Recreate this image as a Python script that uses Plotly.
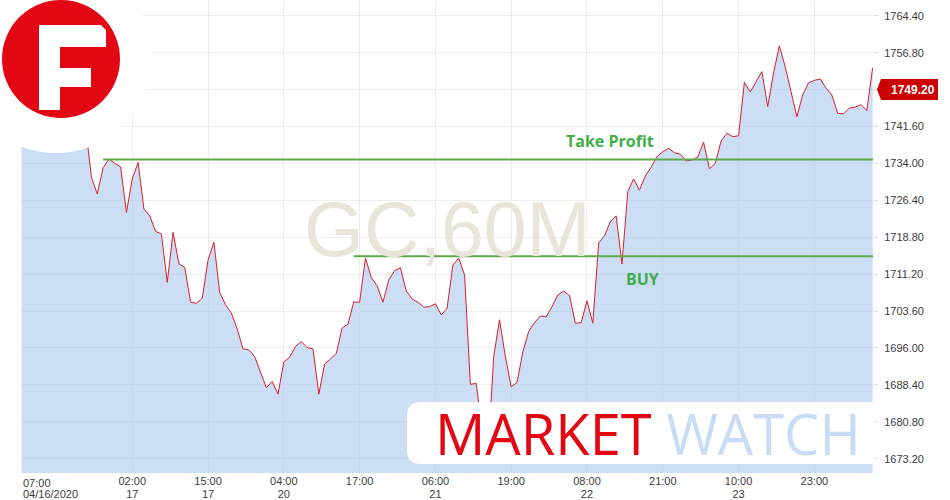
import plotly.graph_objects as go

# ---------------- data ----------------
# hourly closes of GC (gold), 60-minute chart, bar index 0 = 07:00 04/16/2020
close = [
    1741.0, 1742.5, 1743.8, 1742.6, 1744.1, 1745.0, 1743.5, 1742.8, 1744.2, 1743.0,
    1742.2, 1741.4, 1731.1, 1727.7, 1733.1, 1734.9, 1734.0, 1733.3, 1723.9, 1730.8,
    1734.2, 1724.6, 1723.2, 1720.0, 1719.5, 1709.5, 1719.8, 1713.3, 1712.6, 1705.4,
    1705.2, 1706.2, 1714.1, 1717.8, 1707.4, 1704.9, 1703.2, 1699.9, 1695.8, 1695.6,
    1694.2, 1691.1, 1687.8, 1689.1, 1686.5, 1693.1, 1694.1, 1696.3, 1697.3, 1696.1,
    1695.8, 1686.5, 1692.7, 1693.7, 1694.9, 1700.1, 1700.9, 1705.5, 1705.4, 1714.5,
    1710.5, 1708.8, 1705.4, 1710.0, 1711.9, 1712.5, 1707.7, 1706.1, 1705.4, 1704.4,
    1704.5, 1705.1, 1702.8, 1704.2, 1713.1, 1714.5, 1711.0, 1688.5, 1688.7, 1679.0,
    1674.0, 1694.2, 1701.8, 1694.2, 1688.0, 1688.9, 1695.2, 1699.4, 1701.2, 1702.6,
    1702.4, 1704.5, 1706.9, 1707.7, 1706.8, 1701.1, 1701.2, 1705.7, 1701.1, 1717.6,
    1719.1, 1722.0, 1723.2, 1713.3, 1728.2, 1730.8, 1728.5, 1731.4, 1733.2, 1735.4,
    1736.4, 1737.1, 1736.2, 1735.9, 1734.5, 1734.7, 1735.3, 1738.4, 1732.9, 1734.0,
    1738.6, 1740.2, 1739.5, 1739.7, 1750.7, 1748.7, 1750.9, 1752.9, 1745.7, 1752.6,
    1758.2, 1753.9, 1748.8, 1743.6, 1748.1, 1750.6, 1751.1, 1751.4, 1749.5, 1748.1,
    1744.3, 1744.2, 1745.4, 1745.6, 1746.1, 1744.9, 1753.7,
]
bar_index = list(range(len(close)))

tick_index = [19, 32, 45, 58, 71, 84, 97, 110, 123, 136]
time_labels = ["02:00", "15:00", "04:00", "17:00", "06:00", "19:00", "08:00", "21:00", "10:00", "23:00"]
date_labels = ["17", "17", "20", "", "21", "", "22", "", "23", ""]
first_time_label = "07:00"
first_date_label = "04/16/2020"

price_ticks = [1673.2, 1680.8, 1688.4, 1696.0, 1703.6, 1711.2, 1718.8,
               1726.4, 1734.0, 1741.6, 1749.2, 1756.8, 1764.4]
current_price = 1749.20

take_profit_level = 1734.8
take_profit_start = 14
buy_level = 1714.9
buy_start = 57

symbol_text = "GC,60M"

# ---------------- layout helpers (pixel -> paper) ----------------
W, H = 950, 500
L, R, T, B = 21, 77, 0, 27
PW, PH = W - L - R, H - T - B
Y_RANGE = [1670.25, 1767.65]


def pxx(x):
    return (x - L) / PW


def pxy(y):
    return (H - B - y) / PH


FONT = "Arial, Liberation Sans, sans-serif"
RED = "#e30613"
GREEN_LINE = "#5ea84a"
GREEN_TEXT = "#3fae49"
LABEL = "#3c3c3c"

fig = go.Figure()

fig.add_trace(go.Scatter(
    x=bar_index, y=close, mode="lines",
    line=dict(color="#d81e28", width=1),
    fill="tozeroy", fillcolor="rgba(170,200,240,0.6)",
    hoverinfo="skip", showlegend=False,
))

x_end = 146.06
for lvl, start in [(take_profit_level, take_profit_start), (buy_level, buy_start)]:
    fig.add_trace(go.Scatter(
        x=[start, x_end], y=[lvl, lvl], mode="lines",
        line=dict(color=GREEN_LINE, width=2),
        hoverinfo="skip", showlegend=False,
    ))

shapes = []
# white halo behind logo
shapes.append(dict(type="circle", xref="paper", yref="paper",
                   x0=pxx(-40), x1=pxx(152), y0=pxy(153), y1=pxy(-39),
                   fillcolor="white", line=dict(width=0), layer="above"))
# red logo circle
shapes.append(dict(type="circle", xref="paper", yref="paper",
                   x0=pxx(2), x1=pxx(120), y0=pxy(118), y1=pxy(0),
                   fillcolor=RED, line=dict(width=0), layer="above"))
# white F
fpts = [(39, 25), (101, 25), (106, 30), (106, 47), (60, 47), (60, 68), (91, 68),
        (91, 87), (60, 87), (60, 110), (39, 110)]
fpath = "M " + " L ".join(f"{pxx(a):.5f},{pxy(b):.5f}" for a, b in fpts) + " Z"
shapes.append(dict(type="path", xref="paper", yref="paper", path=fpath,
                   fillcolor="white", line=dict(width=0), layer="above"))
# MARKET WATCH box
bx0, bx1, by0, by1, r = 407, 873, 402, 464, 14
bpath = (f"M {pxx(bx0 + r):.5f},{pxy(by0):.5f} L {pxx(bx1):.5f},{pxy(by0):.5f} "
         f"L {pxx(bx1):.5f},{pxy(by1):.5f} L {pxx(bx0 + r):.5f},{pxy(by1):.5f} "
         f"Q {pxx(bx0):.5f},{pxy(by1):.5f} {pxx(bx0):.5f},{pxy(by1 - r):.5f} "
         f"L {pxx(bx0):.5f},{pxy(by0 + r):.5f} "
         f"Q {pxx(bx0):.5f},{pxy(by0):.5f} {pxx(bx0 + r):.5f},{pxy(by0):.5f} Z")
shapes.append(dict(type="path", xref="paper", yref="paper", path=bpath,
                   fillcolor="white", line=dict(width=0), layer="above"))
# current price label box
hh = 10.5 / (PH / (Y_RANGE[1] - Y_RANGE[0]))
ppath = (f"M {pxx(877):.5f},{current_price} L {pxx(881):.5f},{current_price + hh} "
         f"L {pxx(938):.5f},{current_price + hh} L {pxx(938):.5f},{current_price - hh} "
         f"L {pxx(881):.5f},{current_price - hh} Z")
shapes.append(dict(type="path", xref="paper", yref="y", path=ppath,
                   fillcolor="#cc0000", line=dict(width=0), layer="above"))

annotations = [
    dict(text=symbol_text, xref="paper", yref="paper", x=pxx(448), y=pxy(229),
         xanchor="center", yanchor="middle", showarrow=False,
         font=dict(family=FONT, size=77, color="#e9e5d9")),
    dict(text="Take Profit", x=100.9, y=1738.6, showarrow=False,
         font=dict(family="Open Sans", size=16, color=GREEN_TEXT, weight="bold")),
    dict(text="BUY", x=106.6, y=1710.2, showarrow=False,
         font=dict(family="Open Sans", size=16, color=GREEN_TEXT, weight="bold")),
    dict(text=f"<span style='color:{RED}'>MARKET</span> <span style='color:#c9dcf6'>WATCH</span>",
         xref="paper", yref="paper", x=pxx(648), y=pxy(433), xanchor="center",
         yanchor="middle", showarrow=False,
         font=dict(family="Open Sans", size=56, color=RED)),
    dict(text=f"{current_price:.2f}", xref="paper", yref="y", x=pxx(913), y=current_price,
         xanchor="center", yanchor="middle", showarrow=False,
         font=dict(family=FONT, size=12, color="white", weight="bold")),
    dict(text=first_time_label, xref="paper", yref="paper", x=0, y=pxy(475),
         xanchor="left", yanchor="top", showarrow=False,
         font=dict(family=FONT, size=11, color=LABEL)),
    dict(text=first_date_label, xref="paper", yref="paper", x=0, y=pxy(486),
         xanchor="left", yanchor="top", showarrow=False,
         font=dict(family=FONT, size=11, color=LABEL)),
]

fig.update_layout(
    width=W, height=H,
    margin=dict(l=L, r=R, t=T, b=B, pad=0, autoexpand=False),
    paper_bgcolor="white", plot_bgcolor="white",
    showlegend=False, hovermode=False,
    shapes=shapes, annotations=annotations,
    xaxis=dict(range=[-0.086, x_end], tickvals=tick_index, ticktext=time_labels,
               showgrid=True, gridcolor="#eeeeee", gridwidth=1, zeroline=False,
               showline=False, ticks="", tickfont=dict(family=FONT, size=11, color=LABEL),
               automargin=False, fixedrange=True),
    xaxis2=dict(range=[-0.086, x_end], overlaying="x", anchor="y", side="bottom",
                tickvals=tick_index, ticktext=date_labels, showgrid=False, zeroline=False,
                showline=False, ticks="", ticklabelstandoff=13, automargin=False,
                tickfont=dict(family=FONT, size=11, color=LABEL)),
    yaxis=dict(range=Y_RANGE, side="right", tickvals=price_ticks,
               ticktext=[("" if abs(v - current_price) < 1e-6 else f"{v:.2f}") for v in price_ticks],
               showgrid=True, gridcolor="#eeeeee", zeroline=False, showline=False,
               ticks="outside", ticklen=4, tickcolor="#dddddd", automargin=False,
               ticklabelstandoff=4,
               tickfont=dict(family=FONT, size=11, color=LABEL)),
)
# invisible point so that the date axis (xaxis2) is drawn
fig.add_trace(go.Scatter(x=[0], y=[close[0]], xaxis="x2", mode="markers",
                         marker=dict(opacity=0), hoverinfo="skip", showlegend=False))

fig.write_html("out.html", config={"displayModeBar": False},
               post_script="document.body.style.margin='0';")
